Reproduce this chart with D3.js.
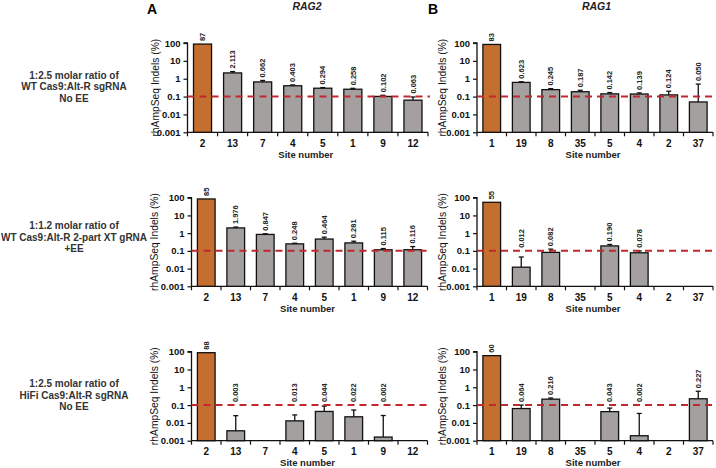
<!DOCTYPE html>
<html>
<head>
<meta charset="utf-8">
<script src="https://cdn.jsdelivr.net/npm/d3@7/dist/d3.min.js"></script>
<style>
  html, body { margin: 0; padding: 0; background: #fff; }
  svg { display: block; font-family: "Liberation Sans", Arial, sans-serif; }
</style>
</head>
<body>
<svg id="chart" width="716" height="468"></svg>
<script>
// ---------------- DATA ----------------
const sitesRAG2 = ["2", "13", "7", "4", "5", "1", "9", "12"];
const sitesRAG1 = ["1", "19", "8", "35", "5", "4", "2", "37"];
const yTickValues = [0.001, 0.01, 0.1, 1, 10, 100];
const yTickLabels = ["0.001", "0.01", "0.1", "1", "10", "100"];
const threshold = 0.1;

const rowLabels = [
  ["1:2.5 molar ratio of", "WT Cas9:Alt-R sgRNA", "No EE"],
  ["1:1.2 molar ratio of", "WT Cas9:Alt-R 2-part XT gRNA", "+EE"],
  ["1:2.5 molar ratio of", "HiFi Cas9:Alt-R sgRNA", "No EE"]
];

// Row 1 (WT sgRNA, no EE)
const rag2Row1Values = [87, 2.113, 0.662, 0.403, 0.294, 0.258, 0.102, 0.063];
const rag2Row1Labels = ["87", "2.113", "0.662", "0.403", "0.294", "0.258", "0.102", "0.063"];
const rag2Row1ErrTop = [87, 2.5, 0.8, 0.45, 0.32, 0.29, 0.118, 0.095];
const rag1Row1Values = [83, 0.623, 0.245, 0.187, 0.142, 0.139, 0.124, 0.050];
const rag1Row1Labels = ["83", "0.623", "0.245", "0.187", "0.142", "0.139", "0.124", "0.050"];
const rag1Row1ErrTop = [83, 0.68, 0.28, 0.225, 0.168, 0.16, 0.2, 0.5];

// Row 2 (WT 2-part XT gRNA, +EE)
const rag2Row2Values = [85, 1.976, 0.847, 0.248, 0.464, 0.281, 0.115, 0.116];
const rag2Row2Labels = ["85", "1.976", "0.847", "0.248", "0.464", "0.281", "0.115", "0.116"];
const rag2Row2ErrTop = [85, 2.2, 0.92, 0.27, 0.59, 0.35, 0.135, 0.175];
const rag1Row2Values = [55, 0.012, 0.082, null, 0.190, 0.078, null, null];
const rag1Row2Labels = ["55", "0.012", "0.082", null, "0.190", "0.078", null, null];
const rag1Row2ErrTop = [55, 0.045, 0.125, null, 0.23, 0.1, null, null];

// Row 3 (HiFi sgRNA, no EE)
const rag2Row3Values = [88, 0.0036, null, 0.013, 0.044, 0.022, 0.0016, null];
const rag2Row3Labels = ["88", "0.003", null, "0.013", "0.044", "0.022", "0.002", null];
const rag2Row3ErrTop = [88, 0.0255, null, 0.028, 0.088, 0.053, 0.026, null];
const rag1Row3Values = [60, 0.064, 0.216, null, 0.043, 0.0019, null, 0.227];
const rag1Row3Labels = ["60", "0.064", "0.216", null, "0.043", "0.002", null, "0.227"];
const rag1Row3ErrTop = [60, 0.1, 0.25, null, 0.068, 0.034, null, 0.6];

// ---------------- LAYOUT ----------------
const colors = { target: "#C46E2F", off: "#A4A0A0", red: "#C1272D", ink: "#111" };

const panels = [
  { sites: sitesRAG2, values: rag2Row1Values, labels: rag2Row1Labels, err: rag2Row1ErrTop, x0: 187.5, x1: 428, yTop: 43, yBot: 132.3, titleX: 155 },
  { sites: sitesRAG1, values: rag1Row1Values, labels: rag1Row1Labels, err: rag1Row1ErrTop, x0: 477, x1: 713, yTop: 43, yBot: 132.3, titleX: 442 },
  { sites: sitesRAG2, values: rag2Row2Values, labels: rag2Row2Labels, err: rag2Row2ErrTop, x0: 191.5, x1: 427.5, yTop: 197.7, yBot: 286.3, titleX: 154 },
  { sites: sitesRAG1, values: rag1Row2Values, labels: rag1Row2Labels, err: rag1Row2ErrTop, x0: 477, x1: 713, yTop: 197.7, yBot: 286.3, titleX: 442 },
  { sites: sitesRAG2, values: rag2Row3Values, labels: rag2Row3Labels, err: rag2Row3ErrTop, x0: 191.5, x1: 427.5, yTop: 351.7, yBot: 440.7, titleX: 154 },
  { sites: sitesRAG1, values: rag1Row3Values, labels: rag1Row3Labels, err: rag1Row3ErrTop, x0: 477, x1: 713, yTop: 351.7, yBot: 440.7, titleX: 442 }
];

const svg = d3.select("#chart");

// Panel letters and gene titles
svg.append("text").attr("x", 147).attr("y", 14).attr("font-size", 14).attr("font-weight", "bold").attr("fill", "#000").text("A");
svg.append("text").attr("x", 428).attr("y", 14).attr("font-size", 14).attr("font-weight", "bold").attr("fill", "#000").text("B");
svg.append("text").attr("x", 307).attr("y", 10).attr("text-anchor", "middle").attr("font-size", 10.5)
  .attr("font-style", "italic").attr("font-weight", "bold").attr("fill", "#222").text("RAG2");
svg.append("text").attr("x", 596.5).attr("y", 10).attr("text-anchor", "middle").attr("font-size", 10.5)
  .attr("font-style", "italic").attr("font-weight", "bold").attr("fill", "#222").text("RAG1");

// Row labels
const rowLabelBaselines = [78.5, 229, 387];
rowLabels.forEach((lines, r) => {
  const t = svg.append("text").attr("text-anchor", "middle").attr("font-size", 10)
    .attr("font-weight", "bold").attr("fill", "#333");
  lines.forEach((ln, i) => {
    t.append("tspan").attr("x", 74).attr("y", rowLabelBaselines[r] + i * 11.5).text(ln);
  });
});

panels.forEach(p => {
  const g = svg.append("g");
  const x = d3.scaleBand().domain(p.sites).range([p.x0, p.x1]).paddingInner(0.4).paddingOuter(0.2);
  const y = d3.scaleLog().domain([0.001, 100]).range([p.yBot, p.yTop]);
  const step = x.step();
  const bw = x.bandwidth();

  // Y axis
  const yAxis = d3.axisLeft(y).tickValues(yTickValues)
    .tickFormat((d, i) => yTickLabels[i]).tickSize(4).tickPadding(3);
  const ya = g.append("g").attr("transform", `translate(${p.x0},0)`).call(yAxis);
  ya.select(".domain").attr("stroke", "#111").attr("stroke-width", 1.3).attr("d", `M-4,${p.yTop}H0V${p.yBot}`);
  ya.selectAll(".tick line").attr("stroke", "#111").attr("stroke-width", 1.2);
  ya.selectAll(".tick text").attr("font-size", 9.5).attr("font-weight", "bold").attr("fill", colors.ink)
    .attr("font-family", "Liberation Sans, Arial, sans-serif");

  // X axis: line with ticks at category boundaries
  const bounds = d3.range(p.sites.length + 1).map(i => i === p.sites.length
    ? x(p.sites[i - 1]) + bw + step * 0.2
    : x(p.sites[i]) - step * 0.2);
  g.append("line").attr("x1", p.x0).attr("x2", p.x1).attr("y1", p.yBot).attr("y2", p.yBot)
    .attr("stroke", "#111").attr("stroke-width", 1.3);
  g.selectAll(".xt").data(bounds).join("line")
    .attr("x1", d => d).attr("x2", d => d).attr("y1", p.yBot).attr("y2", p.yBot + 4)
    .attr("stroke", "#111").attr("stroke-width", 1.2);
  g.selectAll(".xl").data(p.sites).join("text")
    .attr("x", d => x(d) + bw / 2).attr("y", p.yBot + 14.5)
    .attr("text-anchor", "middle").attr("font-size", 10).attr("font-weight", "bold")
    .attr("fill", colors.ink).text(d => d);
  g.append("text").attr("x", (p.x0 + p.x1) / 2 - 2).attr("y", p.yBot + 25.2)
    .attr("text-anchor", "middle").attr("font-size", 9.5).attr("font-weight", "bold")
    .attr("fill", "#222").text("Site number");

  // Y title
  const ty = (p.yTop + p.yBot) / 2;
  g.append("text").attr("transform", `translate(${p.titleX + 3.5},${ty}) rotate(-90)`)
    .attr("text-anchor", "middle").attr("font-size", 10.3).attr("fill", "#111")
    .text("rhAmpSeq Indels (%)");

  const rows = p.sites.map((s, i) => ({ s, i, v: p.values[i], lab: p.labels[i], e: p.err[i] }))
    .filter(d => d.v != null);

  // Bars
  g.selectAll(".bar").data(rows).join("rect")
    .attr("x", d => x(d.s)).attr("width", bw)
    .attr("y", d => y(d.v)).attr("height", d => p.yBot - y(d.v))
    .attr("fill", d => d.i === 0 ? colors.target : colors.off)
    .attr("stroke", "#111").attr("stroke-width", 1.3);

  // Error bars (upper only)
  const errs = rows.filter(d => d.e != null && d.e > d.v);
  g.selectAll(".eb").data(errs).join("line")
    .attr("x1", d => x(d.s) + bw / 2).attr("x2", d => x(d.s) + bw / 2)
    .attr("y1", d => y(d.v)).attr("y2", d => y(d.e))
    .attr("stroke", "#111").attr("stroke-width", 1.3);
  g.selectAll(".ec").data(errs).join("line")
    .attr("x1", d => x(d.s) + bw / 2 - 2.5).attr("x2", d => x(d.s) + bw / 2 + 2.5)
    .attr("y1", d => y(d.e)).attr("y2", d => y(d.e))
    .attr("stroke", "#111").attr("stroke-width", 1.3);

  // Threshold line
  g.append("line").attr("x1", p.x0).attr("x2", p.x1 + 2)
    .attr("y1", y(threshold)).attr("y2", y(threshold))
    .attr("stroke", colors.red).attr("stroke-width", 2).attr("stroke-dasharray", "7,5");

  // Value labels
  g.selectAll(".vl").data(rows.filter(d => d.lab != null)).join("text")
    .attr("transform", d => {
      const top = Math.max(d.v, d.e || d.v, threshold);
      return `translate(${x(d.s) + bw / 2 + 2.7},${y(top) - 3}) rotate(-90)`;
    })
    .attr("font-size", 7.5).attr("font-weight", "bold").attr("fill", "#222")
    .text(d => d.lab);
});
</script>
</body>
</html>
